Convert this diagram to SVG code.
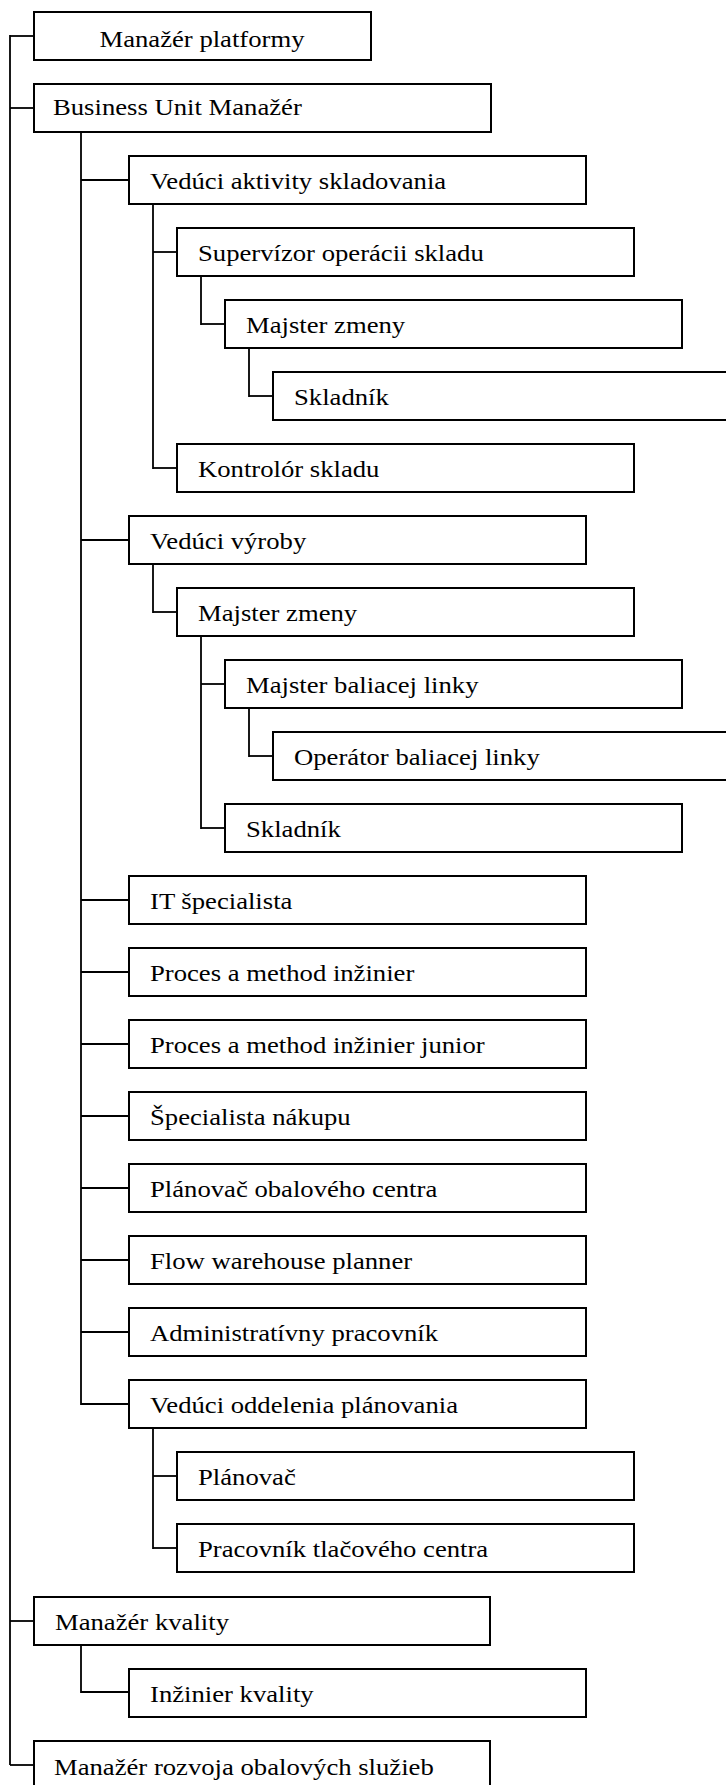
<svg xmlns="http://www.w3.org/2000/svg" width="726" height="1785" viewBox="0 0 726 1785">
<style>
rect{fill:#fff;stroke:#000;stroke-width:2}
text{font-family:"Liberation Serif","Times New Roman",serif;font-size:23px;fill:#000}
.c line{stroke:#000;stroke-width:1.8}
</style>
<rect x="0" y="0" width="726" height="1785" style="stroke:none"/>
<g class="c" id="connectors">
<line x1="10" y1="35" x2="10" y2="1765"/>
<line x1="10" y1="36" x2="34" y2="36"/>
<line x1="10" y1="108" x2="34" y2="108"/>
<line x1="10" y1="1621" x2="34" y2="1621"/>
<line x1="10" y1="1765" x2="34" y2="1765"/>
<line x1="81" y1="132" x2="81" y2="1405"/>
<line x1="81" y1="180" x2="129" y2="180"/>
<line x1="81" y1="540" x2="129" y2="540"/>
<line x1="81" y1="900" x2="129" y2="900"/>
<line x1="81" y1="972" x2="129" y2="972"/>
<line x1="81" y1="1044" x2="129" y2="1044"/>
<line x1="81" y1="1116" x2="129" y2="1116"/>
<line x1="81" y1="1188" x2="129" y2="1188"/>
<line x1="81" y1="1260" x2="129" y2="1260"/>
<line x1="81" y1="1332" x2="129" y2="1332"/>
<line x1="81" y1="1404" x2="129" y2="1404"/>
<line x1="153" y1="204" x2="153" y2="469"/>
<line x1="153" y1="252" x2="177" y2="252"/>
<line x1="153" y1="468" x2="177" y2="468"/>
<line x1="201" y1="276" x2="201" y2="325"/>
<line x1="201" y1="324" x2="225" y2="324"/>
<line x1="249" y1="348" x2="249" y2="397"/>
<line x1="249" y1="396" x2="273" y2="396"/>
<line x1="153" y1="564" x2="153" y2="613"/>
<line x1="153" y1="612" x2="177" y2="612"/>
<line x1="201" y1="636" x2="201" y2="829"/>
<line x1="201" y1="684" x2="225" y2="684"/>
<line x1="201" y1="828" x2="225" y2="828"/>
<line x1="249" y1="708" x2="249" y2="757"/>
<line x1="249" y1="756" x2="273" y2="756"/>
<line x1="153" y1="1428" x2="153" y2="1549"/>
<line x1="153" y1="1476" x2="177" y2="1476"/>
<line x1="153" y1="1548" x2="177" y2="1548"/>
<line x1="81" y1="1645" x2="81" y2="1693"/>
<line x1="81" y1="1692" x2="129" y2="1692"/>
</g>
<g id="n0"><rect x="34" y="12" width="337" height="48"/><text x="202" y="47" text-anchor="middle" transform="translate(202,0) scale(1.16,1) translate(-202,0)">Manažér platformy</text></g>
<g id="n1"><rect x="34" y="84" width="457" height="48"/><text transform="translate(53,115) scale(1.16,1)">Business Unit Manažér</text></g>
<g id="n2"><rect x="129" y="156" width="457" height="48"/><text transform="translate(150,189) scale(1.16,1)">Vedúci aktivity skladovania</text></g>
<g id="n3"><rect x="177" y="228" width="457" height="48"/><text transform="translate(198,261) scale(1.16,1)">Supervízor operácii skladu</text></g>
<g id="n4"><rect x="225" y="300" width="457" height="48"/><text transform="translate(246,333) scale(1.16,1)">Majster zmeny</text></g>
<g id="n5"><rect x="273" y="372" width="460" height="48"/><text transform="translate(294,405) scale(1.16,1)">Skladník</text></g>
<g id="n6"><rect x="177" y="444" width="457" height="48"/><text transform="translate(198,477) scale(1.16,1)">Kontrolór skladu</text></g>
<g id="n7"><rect x="129" y="516" width="457" height="48"/><text transform="translate(150,549) scale(1.16,1)">Vedúci výroby</text></g>
<g id="n8"><rect x="177" y="588" width="457" height="48"/><text transform="translate(198,621) scale(1.16,1)">Majster zmeny</text></g>
<g id="n9"><rect x="225" y="660" width="457" height="48"/><text transform="translate(246,693) scale(1.16,1)">Majster baliacej linky</text></g>
<g id="n10"><rect x="273" y="732" width="460" height="48"/><text transform="translate(294,765) scale(1.16,1)">Operátor baliacej linky</text></g>
<g id="n11"><rect x="225" y="804" width="457" height="48"/><text transform="translate(246,837) scale(1.16,1)">Skladník</text></g>
<g id="n12"><rect x="129" y="876" width="457" height="48"/><text transform="translate(150,909) scale(1.16,1)">IT špecialista</text></g>
<g id="n13"><rect x="129" y="948" width="457" height="48"/><text transform="translate(150,981) scale(1.16,1)">Proces a method inžinier</text></g>
<g id="n14"><rect x="129" y="1020" width="457" height="48"/><text transform="translate(150,1053) scale(1.16,1)">Proces a method inžinier junior</text></g>
<g id="n15"><rect x="129" y="1092" width="457" height="48"/><text transform="translate(150,1125) scale(1.16,1)">Špecialista nákupu</text></g>
<g id="n16"><rect x="129" y="1164" width="457" height="48"/><text transform="translate(150,1197) scale(1.16,1)">Plánovač obalového centra</text></g>
<g id="n17"><rect x="129" y="1236" width="457" height="48"/><text transform="translate(150,1269) scale(1.16,1)">Flow warehouse planner</text></g>
<g id="n18"><rect x="129" y="1308" width="457" height="48"/><text transform="translate(150,1341) scale(1.16,1)">Administratívny pracovník</text></g>
<g id="n19"><rect x="129" y="1380" width="457" height="48"/><text transform="translate(150,1413) scale(1.16,1)">Vedúci oddelenia plánovania</text></g>
<g id="n20"><rect x="177" y="1452" width="457" height="48"/><text transform="translate(198,1485) scale(1.16,1)">Plánovač</text></g>
<g id="n21"><rect x="177" y="1524" width="457" height="48"/><text transform="translate(198,1557) scale(1.16,1)">Pracovník tlačového centra</text></g>
<g id="n22"><rect x="34" y="1597" width="456" height="48"/><text transform="translate(55,1630) scale(1.16,1)">Manažér kvality</text></g>
<g id="n23"><rect x="129" y="1669" width="457" height="48"/><text transform="translate(150,1702) scale(1.16,1)">Inžinier kvality</text></g>
<g id="n24"><rect x="34" y="1741" width="456" height="48"/><text transform="translate(54,1775) scale(1.16,1)">Manažér rozvoja obalových služieb</text></g>
</svg>
